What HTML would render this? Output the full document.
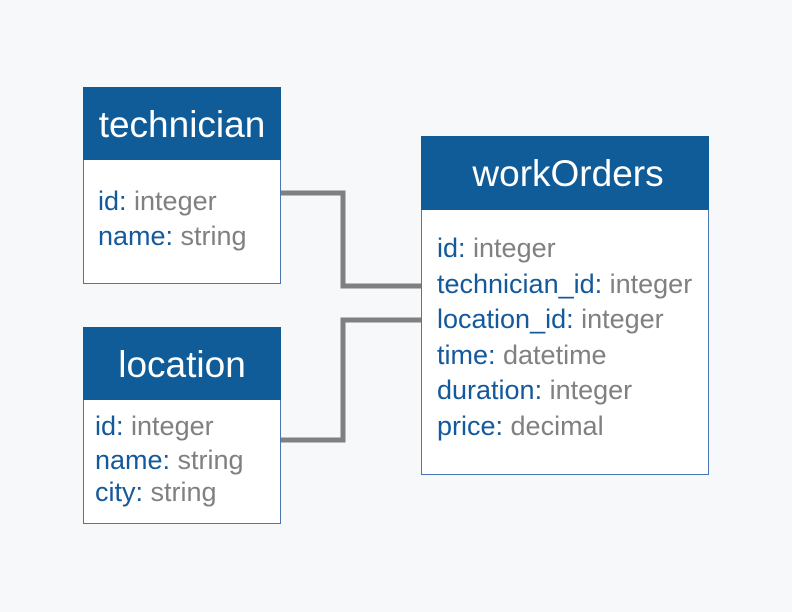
<!DOCTYPE html>
<html><head><meta charset="utf-8"><style>
html,body{margin:0;padding:0;background:#f6f8fa;}
svg{display:block;font-family:"Liberation Sans",Arial,sans-serif;}
.k{fill:#13599b}.t{fill:#808080}
</style></head><body>
<svg width="792" height="612" viewBox="0 0 792 612">
<rect width="792" height="612" fill="#f6f8fa"/>
<g fill="none" stroke="#808080" stroke-width="5">
<polyline points="281,193 343,193 343,286 421,286"/>
<polyline points="281,440 343,440 343,320 421,320"/>
</g>
<rect x="83.5" y="87.5" width="197" height="196" fill="#fff" stroke="#4a74b4" stroke-width="1"/>
<rect x="83" y="87" width="198" height="73" fill="#0f5c99"/>
<text x="182" y="137" text-anchor="middle" font-size="37" fill="#fff">technician</text>
<g font-size="27">
<text x="98" y="210"><tspan class="k">id:</tspan><tspan class="t"> integer</tspan></text>
<text x="98" y="245"><tspan class="k">name:</tspan><tspan class="t"> string</tspan></text>
</g>
<rect x="83.5" y="327.5" width="197" height="196" fill="#fff" stroke="#4a74b4" stroke-width="1"/>
<rect x="83" y="327" width="198" height="73" fill="#0f5c99"/>
<text x="182" y="377" text-anchor="middle" font-size="37" fill="#fff">location</text>
<g font-size="27">
<text x="95" y="435"><tspan class="k">id:</tspan><tspan class="t"> integer</tspan></text>
<text x="95" y="469"><tspan class="k">name:</tspan><tspan class="t"> string</tspan></text>
<text x="95" y="501"><tspan class="k">city:</tspan><tspan class="t"> string</tspan></text>
</g>
<rect x="421.5" y="136.5" width="287" height="338" fill="#fff" stroke="#4a74b4" stroke-width="1"/>
<rect x="421" y="136" width="288" height="74" fill="#0f5c99"/>
<text x="568" y="186" text-anchor="middle" font-size="37" fill="#fff">workOrders</text>
<g font-size="27">
<text x="437" y="257"><tspan class="k">id:</tspan><tspan class="t"> integer</tspan></text>
<text x="437" y="293"><tspan class="k">technician_id:</tspan><tspan class="t"> integer</tspan></text>
<text x="437" y="328"><tspan class="k">location_id:</tspan><tspan class="t"> integer</tspan></text>
<text x="437" y="364"><tspan class="k">time:</tspan><tspan class="t"> datetime</tspan></text>
<text x="437" y="399"><tspan class="k">duration:</tspan><tspan class="t"> integer</tspan></text>
<text x="437" y="435"><tspan class="k">price:</tspan><tspan class="t"> decimal</tspan></text>
</g>
</svg>
</body></html>
